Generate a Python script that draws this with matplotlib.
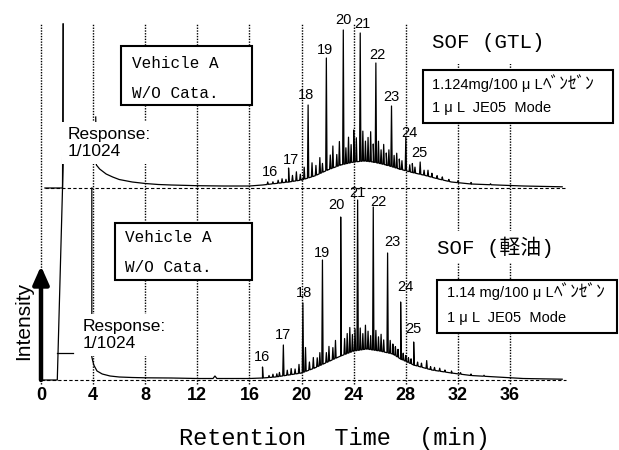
import numpy as np
import matplotlib
matplotlib.use('Agg')
import matplotlib.pyplot as plt
from matplotlib.patches import Rectangle

# ---------------- data ----------------
tick_minutes = [0, 4, 8, 12, 16, 20, 24, 28, 32, 36]
peak_numbers = ['16', '17', '18', '19', '20', '21', '22', '23', '24', '25']

# GTL (upper trace) : numbered peaks (retention time, height above baseline)
gtl_peak_t = [17.4, 19.0, 20.5, 21.9, 23.2, 24.5, 25.7, 26.9, 28.0, 29.1]
gtl_peak_h = [6, 20, 83, 130, 158, 155, 125, 82, 51, 26]
# Diesel (lower trace)
diesel_peak_t = [17.0, 18.6, 20.1, 21.6, 23.0, 24.3, 25.5, 26.6, 27.6, 28.6]
diesel_peak_h = [13, 35, 77, 120, 163, 180, 173, 127, 78, 38]

# solvent front (off-scale)
gtl_solvent_t = [0.3, 1.65, 1.7]
gtl_solvent_h = [0, 0, 164]
diesel_solvent_t = [-0.05, 1.25, 1.7, 1.7]
diesel_solvent_h = [0, 0, 215, 356]
diesel_marker_t = [1.25, 2.45]
diesel_marker_h = [27, 27]

# solvent tail + unresolved hump
gtl_hump_t = [4.2, 4.25, 4.5, 5.0, 5.5, 6.0, 7.0, 8.0, 9.0, 10.0, 12.0, 14.0,
              16.0, 17.0, 18.0, 19.0, 20.0, 21.0, 22.0, 23.0, 24.0, 24.8, 25.5,
              26.5, 27.5, 28.5, 29.5, 30.5, 31.5, 33.0, 35.0, 37.0, 39.0, 40.0]
gtl_hump_h = [71, 23, 19, 14, 11, 8.5, 6, 4.5, 3.5, 3, 2.3, 2,
              2, 3, 4.5, 6, 8, 12, 18, 23, 26, 27, 26,
              23, 19, 15.5, 12.5, 9, 6, 4, 3, 2, 1.5, 1.2]
diesel_hump_t = [3.9, 3.9, 4.05, 4.3, 4.7, 5.3, 6.0, 7.0, 8.0, 10.0, 12.0, 13.2,
                 13.35, 13.5, 15.0, 16.0, 17.0, 18.0, 19.0, 20.0, 21.0, 22.0,
                 23.0, 24.0, 25.0, 26.0, 27.0, 27.6, 28.6, 30.0, 31.5, 33.0,
                 35.0, 37.0, 39.0, 40.0]
diesel_hump_h = [192, 23, 15, 9, 6, 4, 3, 2.5, 2.2, 2, 1.5, 1.5,
                 4, 1.5, 1.5, 1.5, 2, 3, 5, 7, 12, 18,
                 24, 29, 31, 29, 26, 21, 15, 10, 7, 4.5,
                 3, 1.5, 1, 0.8]

# minor peaks on the hump (time, height above hump)
gtl_minor_t = [17.8, 18.2, 18.5, 18.8, 19.3, 19.6, 19.9, 20.2, 20.8, 21.1, 21.4, 21.6,
               22.2, 22.4, 22.7, 22.9, 23.4, 23.6, 23.8, 24.0, 24.2, 24.7, 24.9, 25.1,
               25.3, 25.5, 25.9, 26.1, 26.3, 26.5, 26.7, 27.1, 27.3, 27.5, 27.7, 28.3,
               28.5, 28.7, 29.4, 29.7, 30.0, 30.4, 30.8, 31.3, 32.0, 33.0, 34.5]
gtl_minor_h = [2, 3, 4, 3, 6, 9, 6, 12, 14, 10, 16, 9,
               14, 22, 12, 24, 16, 26, 18, 32, 24, 30, 20, 24,
               30, 18, 22, 14, 20, 12, 16, 12, 15, 10, 9, 7,
               9, 6, 5, 6, 4, 3, 3, 2, 2, 1.5, 1]
diesel_minor_t = [17.5, 17.8, 18.1, 18.3, 18.9, 19.2, 19.5, 19.8, 20.3, 20.6, 20.9, 21.2,
                  21.4, 21.9, 22.1, 22.4, 22.6, 23.3, 23.5, 23.7, 23.9, 24.1, 24.5, 24.7,
                  24.9, 25.1, 25.3, 25.7, 25.9, 26.1, 26.3, 26.8, 27.0, 27.2, 27.4, 27.8,
                  28.0, 28.2, 28.4, 28.9, 29.2, 29.6, 29.9, 30.2, 30.6, 31.0, 31.5, 32.2,
                  33.0, 34.0]
diesel_minor_h = [2, 3, 3, 4, 5, 6, 5, 9, 24, 8, 11, 9,
                  13, 10, 15, 12, 18, 16, 20, 25, 17, 22, 22, 16,
                  24, 18, 14, 20, 14, 17, 12, 13, 10, 9, 8, 7,
                  6, 5, 5, 4, 4, 8, 3, 3, 3, 2, 2, 1.5,
                  1.5, 1]

# ---------------- layout ----------------
X0, XS = 41.0, 13.03          # px of t=0, px per minute
UP_OFFSET = 192               # upper trace baseline above lower baseline
TOP = 356
gtl_lbl_dx = [2, 2, -2, -1, 0, 2, 2, 0, 4, -1]
gtl_lbl_dy = [10, 8, 10, 8, 10, 9, 8, 9, 4, 9]
diesel_lbl_dx = [-1, 0, 1, 0, -4, 0, 5, 5, 5, 0]
diesel_lbl_dy = [10, 10, 10, 7, 12, 7, 5, 11, 15, 13]

SANS = 'Liberation Sans'
MONO = 'Liberation Mono'
JP = 'Noto Sans CJK JP'


def build_trace(hump_t, hump_h, pk_t, pk_h, mn_t, mn_h, w=0.05):
    pts = list(zip(hump_t, hump_h))
    for t, h in zip(pk_t, pk_h):
        pts += [(t - w, np.interp(t - w, hump_t, hump_h)), (t, h),
                (t + w, np.interp(t + w, hump_t, hump_h))]
    for t, h in zip(mn_t, mn_h):
        pts += [(t - w, np.interp(t - w, hump_t, hump_h)),
                (t, np.interp(t, hump_t, hump_h) + h),
                (t + w, np.interp(t + w, hump_t, hump_h))]
    pts.sort(key=lambda p: p[0])
    return np.array([p[0] for p in pts]), np.array([p[1] for p in pts])


fig = plt.figure(figsize=(6.19, 4.5), dpi=100)
ax = fig.add_axes([0, 0, 1, 1])
ax.set_xlim(-X0 / XS, (619 - X0) / XS)
ax.set_ylim(-70, 380)
ax.axis('off')

# grid lines
ax.vlines(tick_minutes, -4, TOP, colors='black', linestyles=(0, (1, 1)), lw=1.0)
# baselines
ax.plot([0.3, 40.3], [UP_OFFSET, UP_OFFSET], color='black', lw=0.8, ls=(0, (3, 2)))
ax.plot([0.0, 40.3], [0, 0], color='black', lw=0.8, ls=(0, (3, 2)))

lw = 0.9
# upper trace (GTL)
ax.plot(gtl_solvent_t, np.array(gtl_solvent_h) + UP_OFFSET, color='black', lw=lw)
tu, yu = build_trace(gtl_hump_t, gtl_hump_h, gtl_peak_t, gtl_peak_h, gtl_minor_t, gtl_minor_h)
ax.plot(tu, yu + UP_OFFSET, color='black', lw=lw)
# lower trace (diesel)
ax.plot(diesel_solvent_t, diesel_solvent_h, color='black', lw=lw)
ax.plot(diesel_marker_t, diesel_marker_h, color='black', lw=lw)
tl, yl = build_trace(diesel_hump_t, diesel_hump_h, diesel_peak_t, diesel_peak_h,
                     diesel_minor_t, diesel_minor_h)
ax.plot(tl, yl, color='black', lw=lw)

# peak labels
for lab, t, h, dx, dy in zip(peak_numbers, gtl_peak_t, gtl_peak_h, gtl_lbl_dx, gtl_lbl_dy):
    ax.text(t + dx / XS, h + UP_OFFSET + dy, lab, ha='center', va='center',
            family=SANS, fontsize=10.5)
for lab, t, h, dx, dy in zip(peak_numbers, diesel_peak_t, diesel_peak_h, diesel_lbl_dx, diesel_lbl_dy):
    ax.text(t + dx / XS, h + dy, lab, ha='center', va='center',
            family=SANS, fontsize=10.5)

# tick labels
for m in tick_minutes:
    ax.text(m, -15, str(m), ha='center', va='center', family=SANS,
            fontsize=13, fontweight='bold')

# intensity arrow
ax.annotate('', xy=(0, 114), xytext=(0, 0),
            arrowprops=dict(arrowstyle='-|>,head_width=0.4,head_length=0.9',
                            lw=3.2, color='black', shrinkA=0, shrinkB=0,
                            mutation_scale=12))

# ---------------- overlay in pixel coords ----------------
ov = fig.add_axes([0, 0, 1, 1])
ov.set_xlim(0, 619)
ov.set_ylim(450, 0)
ov.axis('off')

ov.text(24, 321, 'Intensity', rotation=90, ha='center', va='center',
        family=SANS, fontsize=15)
ov.text(334, 438, 'Retention  Time  (min)', ha='center', va='center',
        family=MONO, fontsize=17)

# Vehicle boxes
for (x0, y0, x1, y1), tx, ty1, ty2 in [((121, 46, 252, 105), 132, 63, 93),
                                       ((115, 223, 252, 280), 125, 237, 267)]:
    ov.add_patch(Rectangle((x0, y0), x1 - x0, y1 - y0, facecolor='white',
                           edgecolor='black', lw=1.5))
    ov.text(tx, ty1, 'Vehicle A', ha='left', va='center', family=MONO, fontsize=11.5)
    ov.text(tx, ty2, 'W/O Cata.', ha='left', va='center', family=MONO, fontsize=11.5)

# Response texts
for x, y in [(68, 143), (83, 335)]:
    ov.text(x, y, 'Response:\n1/1024', ha='left', va='center', family=SANS,
            fontsize=12.5, linespacing=1.15,
            bbox=dict(facecolor='white', edgecolor='none', pad=4))

# SOF titles
ov.text(432, 42, 'SOF (GTL)', ha='left', va='center', family=[MONO, JP],
        fontsize=15, bbox=dict(facecolor='white', edgecolor='none', pad=9))
ov.text(437, 247, 'SOF (軽油)', ha='left', va='center', family=[MONO, JP],
        fontsize=15, bbox=dict(facecolor='white', edgecolor='none', pad=4))

# info boxes
for (x0, y0, x1, y1), tx, ty1, ty2, l1 in [((423, 70, 613, 123), 432, 85, 108,
                                            '1.124mg/100 μ L'),
                                           ((437, 280, 617, 333), 447, 293, 318,
                                            '1.14 mg/100 μ L')]:
    ov.add_patch(Rectangle((x0, y0), x1 - x0, y1 - y0, facecolor='white',
                           edgecolor='black', lw=1.5))
    t1 = ov.text(tx, ty1, l1, ha='left', va='center', family=[SANS, JP], fontsize=10.5)
    ov.annotate('ﾍﾞﾝｾﾞﾝ', xy=(1.0, 0.5), xycoords=t1, ha='left', va='center',
                family=JP, fontsize=12.5)
    ov.text(tx, ty2, '1 μ L  JE05  Mode', ha='left', va='center', family=[SANS, JP],
            fontsize=10.5)

fig.savefig('out.png', dpi=100)
